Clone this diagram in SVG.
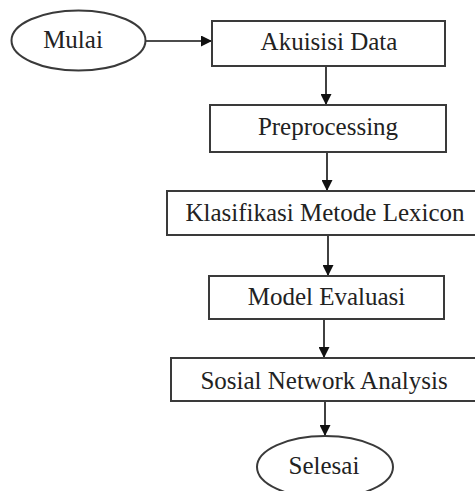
<svg xmlns="http://www.w3.org/2000/svg" width="475" height="491" viewBox="0 0 475 491">
<style>
.box{fill:#fff;stroke:#3a3a3a;stroke-width:2}
.term{fill:#fff;stroke:#3a3a3a;stroke-width:2}
.lbl{font-family:"Liberation Serif","Times New Roman",serif;font-size:25px;fill:#222;text-anchor:middle}
.conn{stroke:#111;stroke-width:1.6;fill:none;marker-end:url(#ah)}
</style>
<defs>
<marker id="ah" markerWidth="11" markerHeight="11" refX="11" refY="5.5" orient="auto" markerUnits="userSpaceOnUse">
<path d="M0,0 L11,5.5 L0,11 Z" fill="#111"/>
</marker>
</defs>
<rect width="475" height="491" fill="#fff"/>
<g id="connectors">
<line class="conn" x1="146" y1="41" x2="212" y2="41"/>
<line class="conn" x1="326" y1="66" x2="326" y2="105"/>
<line class="conn" x1="327" y1="152" x2="327" y2="191"/>
<line class="conn" x1="328" y1="235" x2="328" y2="276"/>
<line class="conn" x1="324" y1="319" x2="324" y2="358"/>
<line class="conn" x1="325" y1="401" x2="325" y2="436"/>
</g>
<g id="mulai">
<ellipse class="term" cx="78.5" cy="40.5" rx="67" ry="30"/>
<text class="lbl" x="73" y="48">Mulai</text>
</g>
<g id="akuisisi">
<rect class="box" x="212" y="21" width="233" height="45"/>
<text class="lbl" x="329" y="50">Akuisisi Data</text>
</g>
<g id="preprocessing">
<rect class="box" x="210" y="105" width="236" height="47"/>
<text class="lbl" x="328" y="135">Preprocessing</text>
</g>
<g id="klasifikasi">
<rect class="box" x="167" y="191" width="320" height="44"/>
<text class="lbl" x="325" y="221">Klasifikasi Metode Lexicon</text>
</g>
<g id="model">
<rect class="box" x="209" y="276" width="235" height="43"/>
<text class="lbl" x="326.5" y="305">Model Evaluasi</text>
</g>
<g id="sosial">
<rect class="box" x="171" y="358" width="320" height="43"/>
<text class="lbl" x="324" y="389">Sosial Network Analysis</text>
</g>
<g id="selesai">
<ellipse class="term" cx="325" cy="467" rx="68" ry="31"/>
<text class="lbl" x="324" y="474">Selesai</text>
</g>
</svg>
